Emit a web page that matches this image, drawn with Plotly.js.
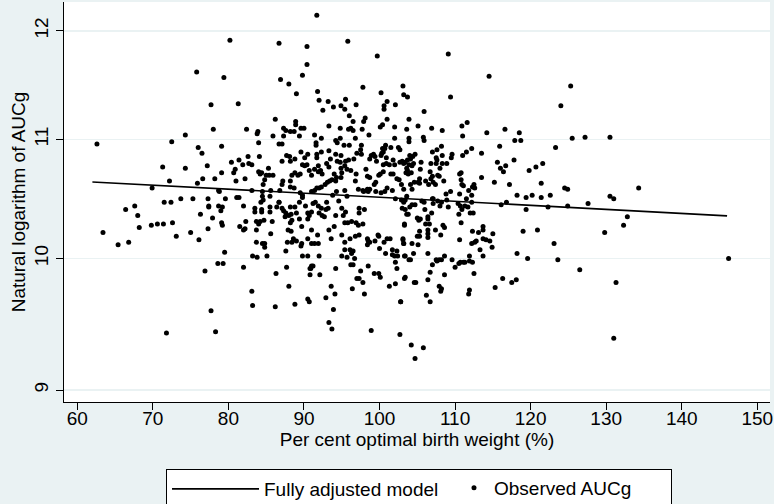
<!DOCTYPE html>
<html>
<head>
<meta charset="utf-8">
<script src="https://cdn.plot.ly/plotly-3.0.1.min.js"></script>
<style>html,body{margin:0;padding:0;background:#EAF2F3;}#chart{width:774px;height:504px;}</style>
</head>
<body>
<div id="chart"></div>
<script>
// Observed AUCg points: per cent optimal birth weight (x) and natural log of AUCg (y)
const obsX = [
80.2,75.8,79.4,77.7,81.3,78.0,74.3,72.5,62.6,76.0,79.1,76.5,71.3,74.3,77.2,80.4,81.4,80.9,80.7,79.1,78.2,76.6,72.2,75.9,81.0,69.9,78.7,78.8,73.7,75.3,77.3,79.6,81.1,81.4,
63.4,65.4,66.8,66.4,67.6,68.0,68.2,69.8,70.6,71.4,71.5,72.4,72.6,73.1,75.0,76.1,76.3,77.4,77.4,77.9,77.3,78.7,79.2,79.0,79.1,79.2,81.5,79.5,78.6,79.3,76.9,77.7,78.3,71.8,
91.7,86.7,90.4,95.8,99.7,90.4,89.8,86.9,88.0,89.0,91.8,97.8,100.2,103.1,103.2,103.7,92.0,93.2,92.5,93.9,94.9,95.5,95.4,96.9,100.6,100.6,101.0,102.1,96.0,96.5,98.1,97.9,101.0,100.4,100.1,86.2,103.9,
82.4,83.9,83.8,87.3,87.6,88.2,88.7,88.9,88.9,89.6,90.0,89.4,85.9,87.3,93.3,94.8,95.9,96.2,96.5,97.7,98.6,102.0,103.6,91.4,92.3,84.0,86.7,87.1,91.6,91.6,94.8,94.2,94.4,95.3,96.0,96.8,97.5,97.6,102.0,100.4,100.8,101.5,102.5,102.7,103.9,103.9,
87.7,88.1,84.1,82.6,87.1,88.2,88.8,89.6,90.1,90.5,91.7,92.3,91.7,93.3,94.2,94.9,93.5,94.4,94.8,95.5,95.9,96.6,97.0,97.6,98.7,98.9,99.2,99.4,99.6,100.2,100.3,100.5,100.7,100.9,101.8,102.0,102.7,103.0,103.2,103.4,103.7,104.0,103.9,
81.9,82.7,83.1,82.2,84.0,84.4,84.2,85.0,85.3,85.4,85.9,84.8,84.6,87.2,87.1,88.4,88.2,88.8,89.2,89.5,89.8,90.1,90.4,90.7,91.0,91.4,91.9,92.2,92.4,91.9,92.8,93.1,93.4,93.7,93.0,93.3,94.0,94.3,94.2,94.9,95.0,94.9,95.4,95.7,96.2,96.9,96.8,98.2,98.4,98.7,99.5,99.3,99.9,100.1,100.5,100.5,100.9,101.3,101.5,101.8,102.3,102.6,102.9,103.2,103.7,103.5,
83.1,84.5,85.6,84.5,85.5,86.8,88.2,88.7,89.5,89.8,91.0,91.4,91.7,92.0,92.3,93.8,94.3,95.4,95.7,97.2,97.8,98.4,98.7,97.9,98.5,99.5,100.2,100.7,101.0,101.7,102.1,103.6,103.4,
109.1,114.5,125.3,124.0,125.5,109.4,105.9,105.1,106.9,108.3,110.9,111.6,111.0,114.2,116.6,118.5,117.9,118.7,105.8,105.9,123.3,115.9,112.2,108.2,107.6,107.0,108.3,107.5,107.6,109.6,109.5,111.0,111.5,113.5,104.7,104.4,104.1,105.5,104.5,104.3,103.6,106.8,107.5,108.3,108.9,
106.7,105.4,104.2,103.8,108.0,107.7,107.9,107.0,106.8,107.1,107.4,105.3,105.1,105.3,106.1,106.5,104.1,104.6,104.3,108.5,110.6,110.8,110.8,110.9,111.1,112.5,112.3,112.6,111.8,110.6,109.4,108.8,113.5,115.2,115.6,116.0,116.4,116.7,117.8,119.8,120.7,121.6,117.2,121.4,118.2,119.4,120.2,121.4,122.6,124.5,124.9,112.2,111.5,107.1,108.9,
127.2,130.5,134.3,130.5,131.0,
127.6,132.8,132.3,129.8,146.2,126.5,131.3,131.0,
116.1,116.8,119.4,122.3,124.9,119.0,120.9,123.1,118.2,119.6,123.6,116.3,117.5,118.1,115.3,
102.9,103.2,103.0,103.4,104.0,104.3,104.7,103.8,103.6,103.3,103.3,103.1,103.2,103.4,104.1,104.5,104.3,105.1,105.3,105.3,105.4,105.6,105.9,106.0,106.4,106.4,106.1,106.6,106.4,106.4,106.4,106.9,107.0,107.1,107.7,108.2,108.0,107.4,108.1,108.4,108.6,109.1,
110.4,110.7,110.9,110.5,110.8,111.3,111.7,112.2,112.0,112.4,110.6,112.3,113.1,113.7,113.7,112.8,112.2,112.6,113.7,114.1,114.6,115.0,114.9,113.3,113.7,111.9,111.3,111.1,110.7,110.5,110.0,109.6,108.6,108.2,107.9,107.5,107.6,107.0,106.7,106.4,106.4,106.2,106.7,108.6,107.9,108.2,108.1,
104.8,104.6,103.3,102.8,102.7,104.2,105.8,104.7,111.9,112.3,112.5,111.9,111.8,105.0,105.2,105.0,
84.3,84.6,86.7,87.1,87.5,88.0,88.2,88.3,88.8,89.0,89.4,89.4,89.8,89.7,90.2,90.5,90.5,90.7,91.0,91.2,91.5,91.9,92.0,92.3,92.4,92.7,93.0,93.2,92.9,93.3,93.6,94.0,94.2,94.6,95.0,95.2,95.5,95.4,95.8,95.0,95.4,96.1,96.3,96.9,97.2,97.8,97.3,98.0,97.3,96.8,97.3,
98.4,98.5,98.7,98.4,99.4,99.8,99.9,100.0,100.6,100.8,101.0,101.4,101.7,101.7,102.3,102.0,102.4,102.1,102.3,103.1,103.2,103.3,103.9,103.4,102.8,101.3,102.1,99.9,99.3,100.1,98.5,98.0,97.8,97.5,97.3,97.0,96.4,96.2,96.5,96.7,96.3,96.5,96.1,95.7,95.4,95.0,94.2,93.6,94.1,92.9,90.5,90.7,93.3,93.7,93.9,98.9,
91.0,90.9,90.8,91.2,90.8,92.1,92.0,90.5,89.8,89.6,89.7,91.0,91.4,91.9,91.8,91.0,90.5,88.3,88.2,87.9,88.4,86.4,86.7,87.3,87.6,
82.0,82.0,82.2,82.3,83.2,83.8,82.0,83.7,84.5,84.8,84.8,85.1,83.1,83.2,86.2,86.3,87.7,88.0,88.8,87.6,87.8,88.4,88.6,89.0,85.6,83.7,83.7,84.2,84.0,84.7,85.8,83.5,83.5,84.4,84.4,85.5,85.5
];
const obsY = [
11.91,11.61,11.56,11.31,11.32,11.09,11.04,10.98,10.96,10.93,10.94,10.88,10.76,10.75,10.77,10.80,10.82,10.74,10.71,10.71,10.66,10.66,10.64,10.62,10.64,10.58,10.56,10.55,10.49,10.49,10.49,10.49,10.50,10.50,
10.21,10.11,10.13,10.40,10.43,10.35,10.25,10.27,10.28,10.28,10.46,10.46,10.29,10.18,10.21,10.15,10.36,10.43,10.42,10.33,10.24,10.43,10.42,10.39,10.29,10.27,10.26,10.05,9.96,9.96,9.90,9.59,9.43,9.42,
12.15,11.88,11.85,11.90,11.76,11.68,11.58,11.54,11.50,11.41,11.43,11.47,11.42,11.48,11.40,11.38,11.35,11.34,11.26,11.29,11.30,11.36,11.27,11.31,11.30,11.27,11.34,11.31,11.21,11.16,11.19,11.16,11.18,11.13,11.11,11.18,11.18,
11.09,11.07,11.05,11.10,11.08,11.07,11.07,11.13,11.16,11.10,11.10,11.03,11.03,11.03,11.12,11.10,11.09,11.10,11.08,11.09,11.04,11.11,11.09,11.04,11.01,10.97,10.96,10.96,10.97,10.95,11.01,10.99,10.97,10.95,10.95,11.01,10.91,10.95,11.01,10.92,10.95,10.93,10.93,10.91,11.01,10.98,
10.86,10.85,10.85,10.85,10.81,10.81,10.83,10.89,10.84,10.87,10.87,10.89,10.84,10.90,10.87,10.86,10.83,10.81,10.80,10.81,10.82,10.83,10.88,10.87,10.83,10.86,10.87,10.85,10.81,10.86,10.88,10.89,10.92,10.84,10.82,10.78,10.80,10.81,10.79,10.80,10.82,10.86,10.78,
10.78,10.79,10.78,10.66,10.72,10.71,10.70,10.69,10.75,10.69,10.69,10.65,10.61,10.64,10.61,10.69,10.64,10.71,10.69,10.70,10.78,10.77,10.78,10.73,10.69,10.74,10.72,10.73,10.70,10.77,10.61,10.63,10.64,10.65,10.79,10.76,10.70,10.67,10.64,10.75,10.71,10.67,10.77,10.74,10.73,10.70,10.64,10.74,10.68,10.67,10.63,10.61,10.69,10.70,10.72,10.78,10.79,10.78,10.70,10.70,10.66,10.65,10.61,10.57,10.73,10.71,
10.56,10.55,10.56,10.51,10.51,10.56,10.59,10.58,10.54,10.52,10.55,10.56,10.58,10.58,10.59,10.52,10.55,10.56,10.51,10.57,10.56,10.57,10.57,10.55,10.55,10.55,10.54,10.55,10.58,10.56,10.49,10.51,10.48,
11.78,11.57,11.48,11.30,11.01,11.38,11.25,11.12,11.10,11.08,11.12,11.15,11.03,11.06,11.09,11.06,10.99,10.99,11.02,10.99,10.93,10.94,10.92,10.94,10.91,10.89,10.86,10.84,10.82,10.87,10.84,10.86,10.89,10.88,10.87,10.85,10.83,10.80,10.79,10.77,10.75,10.79,10.79,10.79,10.79,
10.72,10.74,10.71,10.70,10.75,10.69,10.68,10.68,10.66,10.63,10.61,10.66,10.63,10.62,10.64,10.61,10.61,10.63,10.57,10.64,10.70,10.71,10.65,10.61,10.60,10.61,10.59,10.58,10.56,10.53,10.55,10.53,10.67,10.63,10.80,10.75,10.72,10.77,10.82,10.73,10.76,10.79,10.61,10.62,10.52,10.50,10.52,10.50,10.52,10.58,10.57,10.52,10.49,10.49,10.48,
11.02,11.02,10.58,10.51,10.49,
10.45,10.34,10.27,10.21,10.00,9.91,9.81,9.38,
10.44,10.46,10.40,10.42,10.43,10.22,10.23,10.12,10.04,10.00,9.99,9.84,9.81,9.83,9.77,
10.48,10.46,10.41,10.40,10.42,10.44,10.44,10.36,10.36,10.28,10.27,10.16,10.12,10.02,9.99,10.04,10.12,10.11,10.22,10.18,10.32,10.47,10.46,10.40,10.34,10.32,10.28,10.28,10.23,10.20,10.17,10.37,10.49,10.45,10.47,10.46,10.43,10.23,10.19,10.27,10.25,10.42,
10.45,10.43,10.40,10.36,10.29,10.43,10.42,10.46,10.37,10.37,10.15,10.22,10.21,10.23,10.26,10.14,10.12,10.13,10.16,10.15,10.14,10.20,10.09,10.07,10.02,10.02,9.97,9.97,9.97,9.96,9.93,9.99,10.02,9.99,9.99,9.99,9.98,9.95,9.89,10.04,9.83,9.71,9.66,9.87,9.78,9.76,9.74,
9.81,9.81,9.84,9.66,9.41,9.33,9.31,9.23,9.98,9.97,9.88,9.75,9.72,10.33,10.31,10.18,
10.46,10.48,10.46,10.41,10.34,10.35,10.42,10.36,10.42,10.37,10.32,10.46,10.50,10.26,10.43,10.37,10.32,10.35,10.38,10.45,10.46,10.43,10.37,10.41,10.35,10.34,10.46,10.41,10.40,10.23,10.16,10.26,10.35,10.47,10.41,10.35,10.38,10.29,10.29,10.19,10.13,10.16,10.30,10.29,10.27,10.28,10.41,10.40,10.37,10.18,10.19,
10.16,10.14,10.13,10.11,10.14,10.19,10.18,10.08,10.13,10.04,10.16,10.16,10.07,10.03,10.06,10.02,10.02,9.97,9.92,10.15,10.12,10.02,9.99,9.85,9.66,9.78,9.80,9.88,9.88,9.85,9.94,9.72,9.81,9.90,9.84,9.84,9.76,9.95,9.95,10.00,10.04,10.06,10.07,10.01,10.07,10.02,9.92,9.78,9.72,9.69,9.68,9.66,9.50,9.45,9.60,9.44,
9.94,9.92,9.92,9.94,9.87,9.87,10.02,10.02,10.02,10.10,10.12,10.12,10.12,10.12,10.19,10.23,10.16,10.22,10.29,10.23,10.31,10.42,10.46,10.39,10.37,
10.43,10.23,10.24,10.30,10.02,10.01,9.93,10.13,10.12,10.12,10.09,10.02,9.74,9.63,9.62,9.88,9.93,9.78,9.64,10.06,10.13,10.13,10.16,10.14,10.20,10.23,10.30,10.30,10.28,10.31,10.30,10.41,10.38,10.40,10.38,10.42,10.38
];
// Fitted line (fully adjusted model) end points
const fitX = [62, 146];
const fitY = [10.632, 10.347];
// Axis ticks
const xTicks = [60, 70, 80, 90, 100, 110, 120, 130, 140, 150];
const yTicks = [9, 10, 11, 12];
const yTickText = ['9', '10', '11', '12'];

const FONT = 'Liberation Sans, Arial, sans-serif';
const legFont = {family: FONT, size: 19, color: '#000'};

const traces = [
  {
    type: 'scatter', mode: 'markers', x: obsX, y: obsY, name: 'Observed AUCg',
    marker: {color: '#000', size: 5}, legend: 'legend2'
  },
  {
    type: 'scatter', mode: 'lines', x: fitX, y: fitY, name: 'Fully adjusted model<br>&nbsp;',
    line: {color: '#000', width: 1.6}, legend: 'legend'
  }
];

const layout = {
  width: 774, height: 504,
  margin: {l: 64, r: 4, t: 2, b: 102, pad: 0, autoexpand: false},
  paper_bgcolor: '#EAF2F3',
  plot_bgcolor: '#FFFFFF',
  font: {family: FONT, size: 19, color: '#000'},
  showlegend: true,
  legend: {
    orientation: 'h', x: 0.1445, xanchor: 'left', y: -0.1675, yanchor: 'top',
    bgcolor: '#FFFFFF', bordercolor: '#000', borderwidth: 1,
    font: legFont, valign: 'top',
    itemwidth: 87, entrywidth: 402, entrywidthmode: 'pixels'
  },
  legend2: {
    orientation: 'h', x: 0.5524, xanchor: 'left', y: -0.1675, yanchor: 'top',
    bgcolor: 'rgba(0,0,0,0)', borderwidth: 0,
    font: legFont, itemwidth: 30
  },
  xaxis: {
    range: [58.24, 151.68], tickmode: 'array', tickvals: xTicks,
    showgrid: false, zeroline: false,
    showline: true, linecolor: '#000', linewidth: 1,
    ticks: 'outside', ticklen: 7, tickcolor: '#000', tickwidth: 1,
    ticklabelstandoff: -8,
    tickfont: {family: FONT, size: 19, color: '#000'},
    title: {text: 'Per cent optimal birth weight (%)', font: {family: FONT, size: 19, color: '#000'}, standoff: 0}
  },
  yaxis: {
    type: 'log', range: [Math.log10(8.914), Math.log10(12.28)],
    tickmode: 'array', tickvals: yTicks, ticktext: yTickText,
    tickangle: -90,
    showgrid: true, gridcolor: '#EAF2F3', gridwidth: 1.5, zeroline: false,
    showline: true, linecolor: '#000', linewidth: 1,
    ticks: 'outside', ticklen: 7, tickcolor: '#000', tickwidth: 1,
    tickfont: {family: FONT, size: 19, color: '#000'},
    title: {text: 'Natural logarithm of AUCg', font: {family: FONT, size: 19, color: '#000'}, standoff: 0}
  }
};

Plotly.newPlot('chart', traces, layout, {displayModeBar: false, staticPlot: true});
</script>
</body>
</html>
